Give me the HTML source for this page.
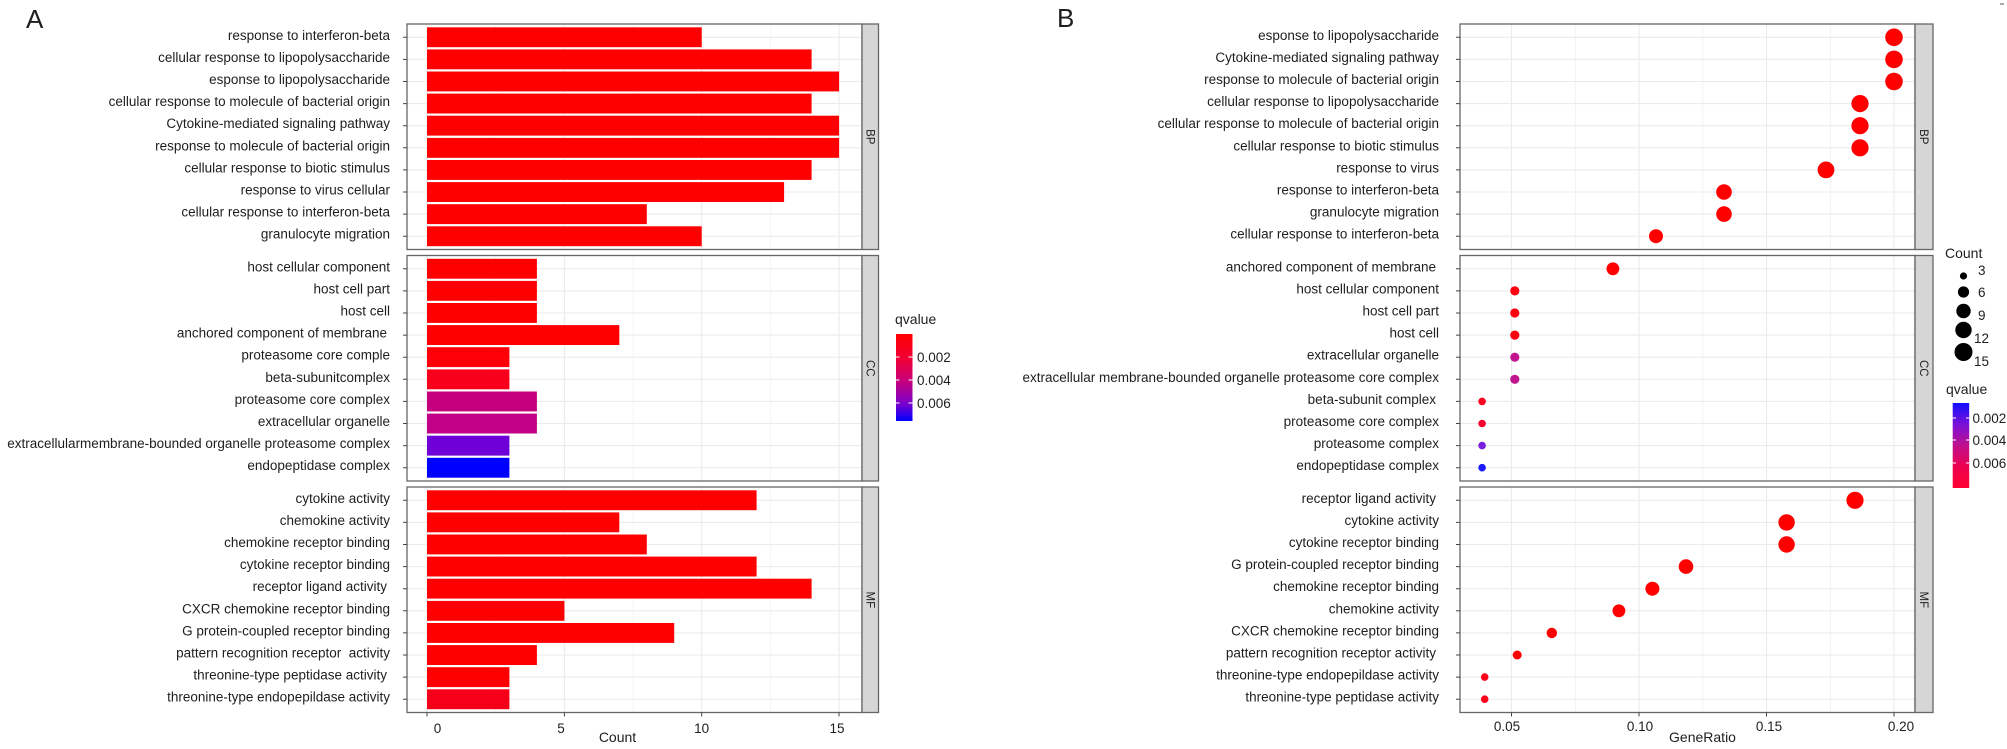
<!DOCTYPE html>
<html><head><meta charset="utf-8"><style>
html,body{margin:0;padding:0;background:#fff;}
svg{display:block;}
text{font-family:"Liberation Sans",sans-serif;fill:#1e1e1e;}
.yl{font-size:13.5px;text-anchor:end;}
.tk{font-size:13.5px;text-anchor:middle;}
.st{font-size:11.5px;text-anchor:middle;}
.lg{font-size:13.5px;}
</style></head><body>
<svg width="2007" height="749" viewBox="0 0 2007 749" xmlns="http://www.w3.org/2000/svg">
<defs>
<linearGradient id="ga" x1="0" y1="0" x2="0" y2="1">
<stop offset="0" stop-color="#ff0000"/><stop offset="0.3" stop-color="#f0003a"/><stop offset="0.55" stop-color="#c4007e"/><stop offset="0.8" stop-color="#7a00cc"/><stop offset="1" stop-color="#0000ff"/>
</linearGradient>
<linearGradient id="gb" x1="0" y1="0" x2="0" y2="1">
<stop offset="0" stop-color="#1010ff"/><stop offset="0.25" stop-color="#7a10d8"/><stop offset="0.5" stop-color="#c0108c"/><stop offset="0.75" stop-color="#ee0050"/><stop offset="1" stop-color="#ff0030"/>
</linearGradient>
</defs>
<rect width="2007" height="749" fill="#fff"/>

<!-- ===================== PANEL A ===================== -->
<text x="26" y="28" style="font-size:26px;">A</text>

<!-- panel backgrounds -->
<rect x="407" y="24" width="455" height="225.5" fill="#fff"/>
<rect x="407" y="255.5" width="455" height="225.5" fill="#fff"/>
<rect x="407" y="487" width="455" height="225.5" fill="#fff"/>

<!-- minor vertical grid -->
<path d="M495.7 24V249.5M633 24V249.5M770.4 24V249.5M495.7 255.5V481M633 255.5V481M770.4 255.5V481M495.7 487V712.5M633 487V712.5M770.4 487V712.5" stroke="#f3f3f3" stroke-width="0.8"/>
<!-- major vertical grid -->
<path d="M427 24V249.5M564.4 24V249.5M701.7 24V249.5M839 24V249.5M427 255.5V481M564.4 255.5V481M701.7 255.5V481M839 255.5V481M427 487V712.5M564.4 487V712.5M701.7 487V712.5M839 487V712.5" stroke="#ebebeb" stroke-width="1.1"/>
<!-- horizontal grid -->
<g stroke="#ebebeb" stroke-width="1.1">
<path d="M407 37.3H862M407 59.4H862M407 81.5H862M407 103.6H862M407 125.7H862M407 147.8H862M407 169.9H862M407 192H862M407 214.1H862M407 236.2H862"/>
<path d="M407 268.8H862M407 290.9H862M407 313H862M407 335.1H862M407 357.2H862M407 379.3H862M407 401.4H862M407 423.5H862M407 445.6H862M407 467.7H862"/>
<path d="M407 500.3H862M407 522.4H862M407 544.5H862M407 566.6H862M407 588.7H862M407 610.8H862M407 632.9H862M407 655H862M407 677.1H862M407 699.2H862"/>
</g>

<!-- bars BP -->
<g fill="#ff0000">
<rect x="427" y="27.3" width="274.7" height="19.9"/>
<rect x="427" y="49.4" width="384.6" height="19.9"/>
<rect x="427" y="71.5" width="412.1" height="19.9"/>
<rect x="427" y="93.6" width="384.6" height="19.9"/>
<rect x="427" y="115.7" width="412.1" height="19.9"/>
<rect x="427" y="137.9" width="412.1" height="19.9"/>
<rect x="427" y="160" width="384.6" height="19.9"/>
<rect x="427" y="182.1" width="357.1" height="19.9"/>
<rect x="427" y="204.2" width="219.8" height="19.9"/>
<rect x="427" y="226.3" width="274.7" height="19.9"/>
</g>
<!-- bars CC -->
<rect x="427" y="258.8" width="109.9" height="19.9" fill="#ff0000"/>
<rect x="427" y="280.9" width="109.9" height="19.9" fill="#ff0000"/>
<rect x="427" y="303" width="109.9" height="19.9" fill="#ff0000"/>
<rect x="427" y="325.1" width="192.3" height="19.9" fill="#ff0000"/>
<rect x="427" y="347.2" width="82.4" height="19.9" fill="#ff0008"/>
<rect x="427" y="369.4" width="82.4" height="19.9" fill="#f8001c"/>
<rect x="427" y="391.5" width="109.9" height="19.9" fill="#c4007e"/>
<rect x="427" y="413.6" width="109.9" height="19.9" fill="#c20088"/>
<rect x="427" y="435.7" width="82.4" height="19.9" fill="#7000d8"/>
<rect x="427" y="457.8" width="82.4" height="19.9" fill="#0000ff"/>
<!-- bars MF -->
<g fill="#ff0000">
<rect x="427" y="490.3" width="329.6" height="19.9"/>
<rect x="427" y="512.4" width="192.3" height="19.9"/>
<rect x="427" y="534.5" width="219.8" height="19.9"/>
<rect x="427" y="556.6" width="329.6" height="19.9"/>
<rect x="427" y="578.7" width="384.6" height="19.9"/>
<rect x="427" y="600.9" width="137.4" height="19.9"/>
<rect x="427" y="623" width="247.2" height="19.9"/>
<rect x="427" y="645.1" width="109.9" height="19.9"/>
<rect x="427" y="667.2" width="82.4" height="19.9"/>
</g>
<rect x="427" y="689.3" width="82.4" height="19.9" fill="#f50018"/>

<!-- panel borders & strips A -->
<g fill="none" stroke="#666" stroke-width="1.3">
<rect x="407" y="24" width="455" height="225.5"/>
<rect x="407" y="255.5" width="455" height="225.5"/>
<rect x="407" y="487" width="455" height="225.5"/>
</g>
<g fill="#d6d6d6" stroke="#666" stroke-width="1.3">
<rect x="862" y="24" width="16.5" height="225.5"/>
<rect x="862" y="255.5" width="16.5" height="225.5"/>
<rect x="862" y="487" width="16.5" height="225.5"/>
</g>
<text class="st" transform="translate(866.5,136.8) rotate(90)">BP</text>
<text class="st" transform="translate(866.5,368.3) rotate(90)">CC</text>
<text class="st" transform="translate(866.5,599.8) rotate(90)">MF</text>

<!-- y ticks A -->
<g stroke="#444" stroke-width="1">
<path d="M403 37.3H407M403 59.4H407M403 81.5H407M403 103.6H407M403 125.7H407M403 147.8H407M403 169.9H407M403 192H407M403 214.1H407M403 236.2H407"/>
<path d="M403 268.8H407M403 290.9H407M403 313H407M403 335.1H407M403 357.2H407M403 379.3H407M403 401.4H407M403 423.5H407M403 445.6H407M403 467.7H407"/>
<path d="M403 500.3H407M403 522.4H407M403 544.5H407M403 566.6H407M403 588.7H407M403 610.8H407M403 632.9H407M403 655H407M403 677.1H407M403 699.2H407"/>
<path d="M427 712.5V716.5M564.4 712.5V716.5M701.7 712.5V716.5M839 712.5V716.5"/>
</g>

<!-- y labels A -->
<text class="yl" x="390" y="39.8">response to interferon-beta</text>
<text class="yl" x="390" y="61.9">cellular response to lipopolysaccharide</text>
<text class="yl" x="390" y="84">esponse to lipopolysaccharide</text>
<text class="yl" x="390" y="106.1">cellular response to molecule of bacterial origin</text>
<text class="yl" x="390" y="128.2">Cytokine-mediated signaling pathway</text>
<text class="yl" x="390" y="150.3">response to molecule of bacterial origin</text>
<text class="yl" x="390" y="172.4">cellular response to biotic stimulus</text>
<text class="yl" x="390" y="194.5">response to virus cellular</text>
<text class="yl" x="390" y="216.6">cellular response to interferon-beta</text>
<text class="yl" x="390" y="238.7">granulocyte migration</text>

<text class="yl" x="390" y="271.3">host cellular component</text>
<text class="yl" x="390" y="293.4">host cell part</text>
<text class="yl" x="390" y="315.5">host cell</text>
<text class="yl" x="387" y="337.6">anchored component of membrane</text>
<text class="yl" x="390" y="359.7">proteasome core comple</text>
<text class="yl" x="390" y="381.8">beta-subunitcomplex</text>
<text class="yl" x="390" y="403.9">proteasome core complex</text>
<text class="yl" x="390" y="426">extracellular organelle</text>
<text class="yl" x="390" y="448.1">extracellularmembrane-bounded organelle proteasome complex</text>
<text class="yl" x="390" y="470.2">endopeptidase complex</text>

<text class="yl" x="390" y="502.8">cytokine activity</text>
<text class="yl" x="390" y="524.9">chemokine activity</text>
<text class="yl" x="390" y="547">chemokine receptor binding</text>
<text class="yl" x="390" y="569.1">cytokine receptor binding</text>
<text class="yl" x="387" y="591.2">receptor ligand activity</text>
<text class="yl" x="390" y="613.3">CXCR chemokine receptor binding</text>
<text class="yl" x="390" y="635.4">G protein-coupled receptor binding</text>
<text class="yl" x="390" y="657.5" xml:space="preserve">pattern recognition receptor  activity</text>
<text class="yl" x="387" y="679.6">threonine-type peptidase activity</text>
<text class="yl" x="390" y="701.7">threonine-type endopepildase activity</text>

<!-- x axis A -->
<text class="tk" x="437.5" y="733">0</text>
<text class="tk" x="561" y="733">5</text>
<text class="tk" x="701.7" y="733">10</text>
<text class="tk" x="837" y="733">15</text>
<text class="tk" x="617.5" y="742" style="font-size:14px;">Count</text>

<!-- legend A -->
<text class="lg" x="895" y="324" style="font-size:14px;">qvalue</text>
<rect x="896" y="334" width="16.5" height="87" fill="url(#ga)"/>
<g stroke="#fff" stroke-width="1">
<path d="M896 357H899.5M908.5 357H912.5M896 380H899.5M908.5 380H912.5M896 403H899.5M908.5 403H912.5"/>
</g>
<text class="lg" x="917" y="362">0.002</text>
<text class="lg" x="917" y="385">0.004</text>
<text class="lg" x="917" y="408">0.006</text>

<!-- ===================== PANEL B ===================== -->
<text x="1057" y="27" style="font-size:26px;">B</text>

<rect x="1460" y="24" width="455" height="225.5" fill="#fff"/>
<rect x="1460" y="255.5" width="455" height="225.5" fill="#fff"/>
<rect x="1460" y="487" width="455" height="225.5" fill="#fff"/>

<path d="M1575.3 24V249.5M1702.8 24V249.5M1830.3 24V249.5M1575.3 255.5V481M1702.8 255.5V481M1830.3 255.5V481M1575.3 487V712.5M1702.8 487V712.5M1830.3 487V712.5" stroke="#f0f0f0" stroke-width="0.9"/>
<path d="M1511.5 24V249.5M1639 24V249.5M1766.5 24V249.5M1894 24V249.5M1511.5 255.5V481M1639 255.5V481M1766.5 255.5V481M1894 255.5V481M1511.5 487V712.5M1639 487V712.5M1766.5 487V712.5M1894 487V712.5" stroke="#ebebeb" stroke-width="1.1"/>
<g stroke="#ebebeb" stroke-width="1.1">
<path d="M1460 37.3H1915M1460 59.4H1915M1460 81.5H1915M1460 103.6H1915M1460 125.7H1915M1460 147.8H1915M1460 169.9H1915M1460 192H1915M1460 214.1H1915M1460 236.2H1915"/>
<path d="M1460 268.8H1915M1460 290.9H1915M1460 313H1915M1460 335.1H1915M1460 357.2H1915M1460 379.3H1915M1460 401.4H1915M1460 423.5H1915M1460 445.6H1915M1460 467.7H1915"/>
<path d="M1460 500.3H1915M1460 522.4H1915M1460 544.5H1915M1460 566.6H1915M1460 588.7H1915M1460 610.8H1915M1460 632.9H1915M1460 655H1915M1460 677.1H1915M1460 699.2H1915"/>
</g>

<!-- dots BP -->
<g fill="#ff0000">
<circle cx="1894" cy="37.3" r="8.8"/>
<circle cx="1894" cy="59.4" r="8.8"/>
<circle cx="1894" cy="81.5" r="8.8"/>
<circle cx="1860" cy="103.6" r="8.6"/>
<circle cx="1860" cy="125.7" r="8.6"/>
<circle cx="1860" cy="147.8" r="8.6"/>
<circle cx="1826" cy="169.9" r="8.4"/>
<circle cx="1724" cy="192" r="7.8"/>
<circle cx="1724" cy="214.1" r="7.8"/>
<circle cx="1656" cy="236.2" r="7"/>
</g>
<!-- dots CC -->
<circle cx="1612.9" cy="268.8" r="6.4" fill="#ff0000"/>
<circle cx="1514.8" cy="290.9" r="4.6" fill="#ff0010"/>
<circle cx="1514.8" cy="313" r="4.6" fill="#ff0010"/>
<circle cx="1514.8" cy="335.1" r="4.6" fill="#ff0010"/>
<circle cx="1514.8" cy="357.2" r="4.6" fill="#c0158f"/>
<circle cx="1514.8" cy="379.3" r="4.6" fill="#c0158f"/>
<circle cx="1482.1" cy="401.4" r="3.8" fill="#ff0020"/>
<circle cx="1482.1" cy="423.5" r="3.8" fill="#f80030"/>
<circle cx="1482.1" cy="445.6" r="3.8" fill="#7a1fe0"/>
<circle cx="1482.1" cy="467.7" r="3.8" fill="#1a1aff"/>
<!-- dots MF -->
<g fill="#ff0000">
<circle cx="1855" cy="500.3" r="8.6"/>
<circle cx="1786.6" cy="522.4" r="8.2"/>
<circle cx="1786.6" cy="544.5" r="8.2"/>
<circle cx="1686" cy="566.6" r="7.3"/>
<circle cx="1652.4" cy="588.7" r="7"/>
<circle cx="1618.9" cy="610.8" r="6.4"/>
<circle cx="1551.8" cy="632.9" r="5.2"/>
<circle cx="1517.2" cy="655" r="4.5"/>
<circle cx="1484.7" cy="677.1" r="3.8" fill="#ff0018"/>
<circle cx="1484.7" cy="699.2" r="3.8" fill="#ff0018"/>
</g>

<g fill="none" stroke="#666" stroke-width="1.3">
<rect x="1460" y="24" width="455" height="225.5"/>
<rect x="1460" y="255.5" width="455" height="225.5"/>
<rect x="1460" y="487" width="455" height="225.5"/>
</g>
<g fill="#d6d6d6" stroke="#666" stroke-width="1.3">
<rect x="1915" y="24" width="18" height="225.5"/>
<rect x="1915" y="255.5" width="18" height="225.5"/>
<rect x="1915" y="487" width="18" height="225.5"/>
</g>
<text class="st" transform="translate(1920,136.8) rotate(90)">BP</text>
<text class="st" transform="translate(1920,368.3) rotate(90)">CC</text>
<text class="st" transform="translate(1920,599.8) rotate(90)">MF</text>

<g stroke="#444" stroke-width="1">
<path d="M1456 37.3H1460M1456 59.4H1460M1456 81.5H1460M1456 103.6H1460M1456 125.7H1460M1456 147.8H1460M1456 169.9H1460M1456 192H1460M1456 214.1H1460M1456 236.2H1460"/>
<path d="M1456 268.8H1460M1456 290.9H1460M1456 313H1460M1456 335.1H1460M1456 357.2H1460M1456 379.3H1460M1456 401.4H1460M1456 423.5H1460M1456 445.6H1460M1456 467.7H1460"/>
<path d="M1456 500.3H1460M1456 522.4H1460M1456 544.5H1460M1456 566.6H1460M1456 588.7H1460M1456 610.8H1460M1456 632.9H1460M1456 655H1460M1456 677.1H1460M1456 699.2H1460"/>
<path d="M1511.5 712.5V716.5M1639 712.5V716.5M1766.5 712.5V716.5M1894 712.5V716.5"/>
</g>

<!-- y labels B -->
<text class="yl" x="1439" y="39.8">esponse to lipopolysaccharide</text>
<text class="yl" x="1439" y="61.9">Cytokine-mediated signaling pathway</text>
<text class="yl" x="1439" y="84">response to molecule of bacterial origin</text>
<text class="yl" x="1439" y="106.1">cellular response to lipopolysaccharide</text>
<text class="yl" x="1439" y="128.2">cellular response to molecule of bacterial origin</text>
<text class="yl" x="1439" y="150.3">cellular response to biotic stimulus</text>
<text class="yl" x="1439" y="172.4">response to virus</text>
<text class="yl" x="1439" y="194.5">response to interferon-beta</text>
<text class="yl" x="1439" y="216.6">granulocyte migration</text>
<text class="yl" x="1439" y="238.7">cellular response to interferon-beta</text>

<text class="yl" x="1436" y="271.3">anchored component of membrane</text>
<text class="yl" x="1439" y="293.4">host cellular component</text>
<text class="yl" x="1439" y="315.5">host cell part</text>
<text class="yl" x="1439" y="337.6">host cell</text>
<text class="yl" x="1439" y="359.7">extracellular organelle</text>
<text class="yl" x="1439" y="381.8">extracellular membrane-bounded organelle proteasome core complex</text>
<text class="yl" x="1436" y="403.9">beta-subunit complex</text>
<text class="yl" x="1439" y="426">proteasome core complex</text>
<text class="yl" x="1439" y="448.1">proteasome complex</text>
<text class="yl" x="1439" y="470.2">endopeptidase complex</text>

<text class="yl" x="1436" y="502.8">receptor ligand activity</text>
<text class="yl" x="1439" y="524.9">cytokine activity</text>
<text class="yl" x="1439" y="547">cytokine receptor binding</text>
<text class="yl" x="1439" y="569.1">G protein-coupled receptor binding</text>
<text class="yl" x="1439" y="591.2">chemokine receptor binding</text>
<text class="yl" x="1439" y="613.3">chemokine activity</text>
<text class="yl" x="1439" y="635.4">CXCR chemokine receptor binding</text>
<text class="yl" x="1436" y="657.5">pattern recognition receptor activity</text>
<text class="yl" x="1439" y="679.6">threonine-type endopepildase activity</text>
<text class="yl" x="1439" y="701.7">threonine-type peptidase activity</text>

<!-- x axis B -->
<text class="tk" x="1507" y="731">0.05</text>
<text class="tk" x="1640" y="731">0.10</text>
<text class="tk" x="1769" y="731">0.15</text>
<text class="tk" x="1901" y="731">0.20</text>
<text class="tk" x="1702.5" y="742" style="font-size:14px;">GeneRatio</text>

<!-- legend B: Count -->
<text class="lg" x="1945" y="258" style="font-size:14px;">Count</text>
<g fill="#000">
<circle cx="1963.5" cy="276" r="3.6"/>
<circle cx="1963.5" cy="292" r="5.6"/>
<circle cx="1963.5" cy="311" r="7.2"/>
<circle cx="1963.5" cy="330" r="8.2"/>
<circle cx="1963.5" cy="352" r="9"/>
</g>
<text class="lg" x="1978" y="275">3</text>
<text class="lg" x="1978" y="297">6</text>
<text class="lg" x="1978" y="320">9</text>
<text class="lg" x="1974" y="343">12</text>
<text class="lg" x="1974" y="366">15</text>

<!-- legend B: qvalue -->
<text class="lg" x="1946" y="394" style="font-size:14px;">qvalue</text>
<rect x="1952.7" y="403" width="16.5" height="85" fill="url(#gb)"/>
<g stroke="#fff" stroke-width="1">
<path d="M1952.7 418H1956M1966 418H1969.2M1952.7 440H1956M1966 440H1969.2M1952.7 463H1956M1966 463H1969.2"/>
</g>
<text class="lg" x="1972.5" y="423">0.002</text>
<text class="lg" x="1972.5" y="445">0.004</text>
<text class="lg" x="1972.5" y="468">0.006</text>

<path d="M2000 4H2004" stroke="#555" stroke-width="1"/>
</svg>
</body></html>
